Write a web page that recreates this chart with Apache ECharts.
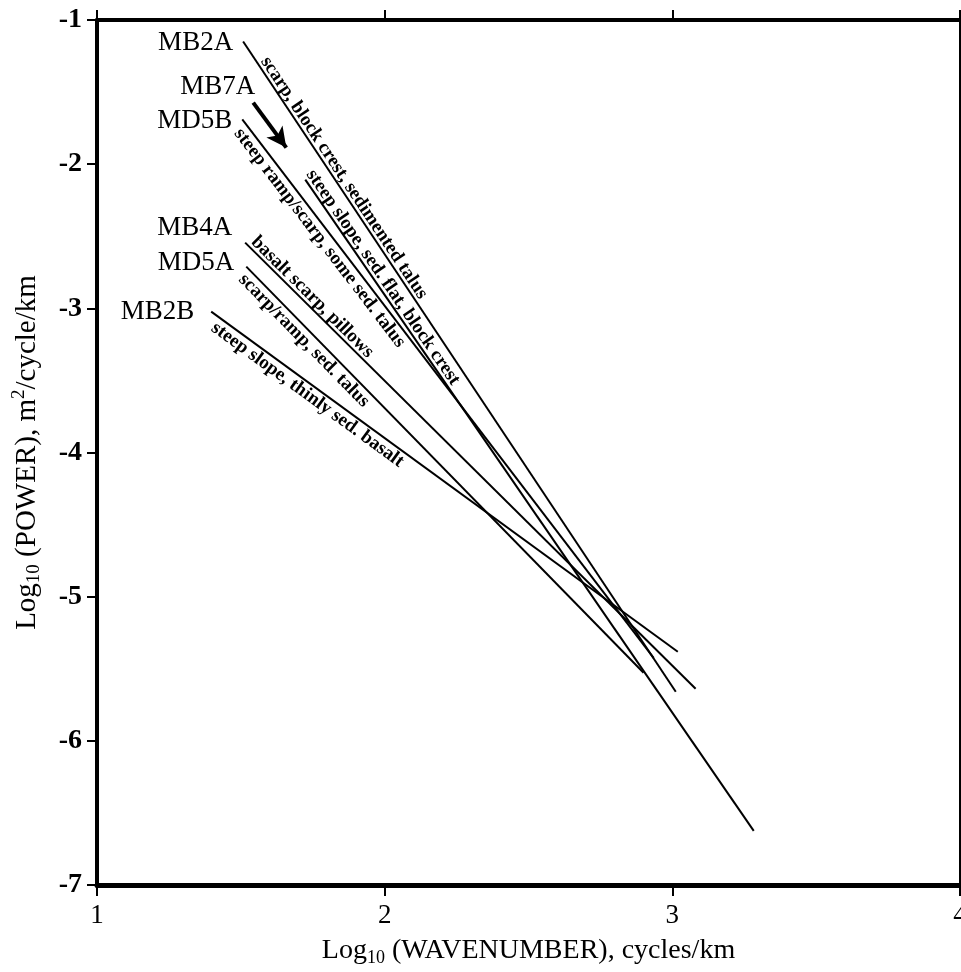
<!DOCTYPE html>
<html>
<head>
<meta charset="UTF-8">
<title>Power spectra</title>
<script src="https://cdn.jsdelivr.net/npm/echarts@6/dist/echarts.min.js"></script>
<style>
  html, body { margin: 0; padding: 0; background: #fff; overflow: hidden; }
</style>
</head>
<body>
<div id="main" style="width: 961px; height: 972px;"></div>
<script type="text/javascript">
// profile names and notes
var names = ['MB2A', 'MB7A', 'MD5B', 'MB4A', 'MD5A', 'MB2B'];
var notes = [
  'scarp, block crest, sedimented talus',
  'steep slope, sed. flat, block crest',
  'steep ramp/scarp, some sed. talus',
  'basalt scarp, pillows',
  'scarp/ramp, sed. talus',
  'steep slope, thinly sed. basalt'
];
// fitted lines: log10 wavenumber -> log10 power
var startX = [1.508, 1.724, 1.505, 1.515, 1.519, 1.397];
var startY = [-1.149, -2.107, -1.690, -2.544, -2.711, -3.023];
var endX = [3.012, 3.283, 2.935, 3.081, 2.900, 3.019];
var endY = [-5.660, -6.625, -5.424, -5.639, -5.528, -5.382];
// arrow next to MB7A
var arrowX = [1.543, 1.658];
var arrowY = [-1.573, -1.885];
var xTicks = [1, 2, 3, 4];
var yTicks = [-7, -6, -5, -4, -3, -2, -1];

// layout of the text (pixels), not data
var noteSide = [1, 1, -1, 1, -1, -1];      // 1 = above line, -1 = below
var noteAlong = [26, -4, 6, 4, 4, 10];
var nameOffset = [[-10, 1], null, [-10, 1], [-13, -15], [-12, -4], [-17, 0]];

var serif = '"Liberation Serif", "DejaVu Serif", serif';
var myChart = echarts.init(document.getElementById('main'));

var series = [];
for (var i = 0; i < names.length; i++) {
  series.push({
    name: names[i],
    type: 'line',
    xAxisIndex: 0,
    yAxisIndex: 0,
    symbol: 'none',
    silent: true,
    lineStyle: { color: '#000', width: 2 },
    data: [[startX[i], startY[i]], [endX[i], endY[i]]]
  });
}
series.push({
  type: 'line',
  symbol: 'none',
  silent: true,
  data: [],
  markLine: {
    silent: true,
    symbol: ['none', 'arrow'],
    symbolSize: [15, 20],
    label: { show: false },
    lineStyle: { color: '#000', width: 4, type: 'solid' },
    data: [[{ coord: [arrowX[0], arrowY[0]] }, { coord: [arrowX[1], arrowY[1]] }]]
  }
});

var option = {
  animation: false,
  backgroundColor: '#fff',
  grid: { left: 97, right: 1, top: 20, bottom: 87, containLabel: false, outerBoundsMode: 'none' },
  xAxis: [{
    type: 'value', min: 1, max: 4, interval: 1, position: 'bottom',
    name: '{a|Log}{sub|10}{a| (WAVENUMBER), cycles/km}',
    nameLocation: 'middle', nameGap: 50,
    nameTextStyle: {
      rich: {
        a: { fontFamily: serif, fontSize: 28, color: '#000' },
        sub: { fontFamily: serif, fontSize: 18, color: '#000', padding: [14, 0, 0, 0] }
      }
    },
    axisLine: { lineStyle: { color: '#000', width: 5 } },
    axisTick: { inside: false, length: 11, lineStyle: { color: '#000', width: 2 } },
    axisLabel: { margin: 17, fontFamily: serif, fontSize: 27, color: '#000',
      formatter: function (v) { return xTicks.indexOf(v) >= 0 ? String(v) : ''; } },
    splitLine: { show: false }
  }, {
    type: 'value', min: 1, max: 4, interval: 1, position: 'top',
    axisLine: { lineStyle: { color: '#000', width: 4 } },
    axisTick: { inside: false, length: 10, lineStyle: { color: '#000', width: 2 } },
    axisLabel: { show: false },
    splitLine: { show: false }
  }],
  yAxis: [{
    type: 'value', min: -7, max: -1, interval: 1, position: 'left',
    name: '{a|Log}{sub|10}{a| (POWER), m}{sup|2}{a|/cycle/km}',
    nameLocation: 'middle', nameGap: 53, nameRotate: 90,
    nameTextStyle: {
      rich: {
        a: { fontFamily: serif, fontSize: 29, color: '#000' },
        sub: { fontFamily: serif, fontSize: 19, color: '#000', padding: [15, 0, 0, 0] },
        sup: { fontFamily: serif, fontSize: 19, color: '#000', padding: [0, 0, 15, 0] }
      }
    },
    axisLine: { lineStyle: { color: '#000', width: 4 } },
    axisTick: { inside: false, length: 10, lineStyle: { color: '#000', width: 2 } },
    axisLabel: { margin: 15, fontFamily: serif, fontSize: 28, fontWeight: 'bold', color: '#000',
      formatter: function (v) { return yTicks.indexOf(v) >= 0 ? String(v) : ''; } },
    splitLine: { show: false }
  }, {
    type: 'value', min: -7, max: -1, interval: 1, position: 'right',
    axisLine: { lineStyle: { color: '#000', width: 2 } },
    axisTick: { show: false },
    axisLabel: { show: false },
    splitLine: { show: false }
  }],
  series: series
};
myChart.setOption(option);

// labels and rotated notes placed from the data coordinates
var graphics = [];
for (var j = 0; j < names.length; j++) {
  var p0 = myChart.convertToPixel({ gridIndex: 0 }, [startX[j], startY[j]]);
  var p1 = myChart.convertToPixel({ gridIndex: 0 }, [endX[j], endY[j]]);
  var dx = p1[0] - p0[0], dy = p1[1] - p0[1];
  var len = Math.sqrt(dx * dx + dy * dy);
  var ux = dx / len, uy = dy / len;
  var nx = uy, ny = -ux;           // normal pointing up-right
  var gap = noteSide[j] > 0 ? -1 : 1;
  var px = p0[0] + ux * noteAlong[j] + nx * gap * noteSide[j];
  var py = p0[1] + uy * noteAlong[j] + ny * gap * noteSide[j];
  graphics.push({
    type: 'text',
    x: px, y: py,
    rotation: -Math.atan2(dy, dx),
    silent: true,
    style: {
      text: notes[j],
      fontFamily: serif, fontSize: 19, fontWeight: 'bold', fill: '#000',
      align: 'left',
      verticalAlign: noteSide[j] > 0 ? 'bottom' : 'top'
    }
  });
  if (nameOffset[j]) {
    graphics.push({
      type: 'text',
      x: p0[0] + nameOffset[j][0], y: p0[1] + nameOffset[j][1],
      silent: true,
      style: { text: names[j], fontFamily: serif, fontSize: 27, fill: '#000',
        align: 'right', verticalAlign: 'middle' }
    });
  }
}
// MB7A label sits at the arrow tail
var a0 = myChart.convertToPixel({ gridIndex: 0 }, [arrowX[0], arrowY[0]]);
graphics.push({
  type: 'text', x: a0[0] + 2, y: a0[1] - 16, silent: true,
  style: { text: names[1], fontFamily: serif, fontSize: 27, fill: '#000',
    align: 'right', verticalAlign: 'middle' }
});
myChart.setOption({ graphic: graphics });
</script>
</body>
</html>
